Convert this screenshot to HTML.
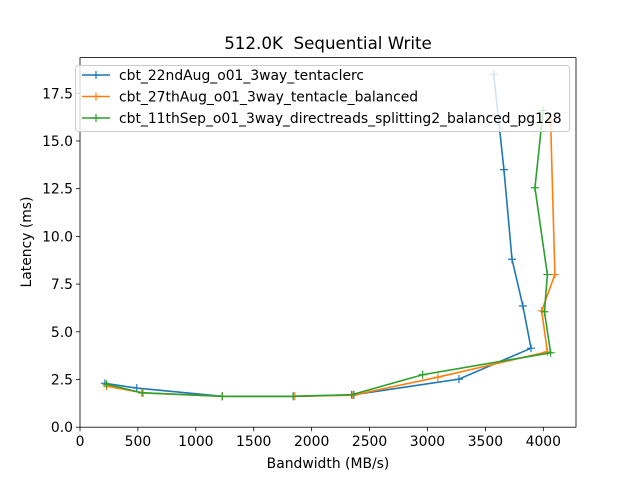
<!DOCTYPE html>
<html><head><meta charset="utf-8"><style>
body{margin:0;background:#fff;font-family:"Liberation Sans","DejaVu Sans",sans-serif}
svg text{font-family:"DejaVu Sans","Liberation Sans",sans-serif}
</style></head><body>
<svg id="c" width="640" height="480" xmlns="http://www.w3.org/2000/svg"></svg>
<script>
const seriesNames=["cbt_22ndAug_o01_3way_tentaclerc","cbt_27thAug_o01_3way_tentacle_balanced","cbt_11thSep_o01_3way_directreads_splitting2_balanced_pg128"];
const blueX=[215,490,1228,1840,2365,3272,3894,3824,3730,3660,3572];
const blueY=[2.3,2.05,1.62,1.62,1.7,2.52,4.14,6.35,8.8,13.5,18.5];
const orangeX=[230,545,1228,1855,2357,3090,4035,3986,4100,4063];
const orangeY=[2.15,1.8,1.62,1.62,1.68,2.62,3.95,6.1,8.0,16.1];
const greenX=[230,535,1228,1840,2345,2958,4063,4010,4035,3928,3998];
const greenY=[2.25,1.8,1.62,1.62,1.7,2.75,3.9,6.05,8.0,12.55,16.6];
const xTicks=[0,500,1000,1500,2000,2500,3000,3500,4000];
const yTicks=[0,2.5,5,7.5,10,12.5,15,17.5];
const yTickLabels=["0.0","2.5","5.0","7.5","10.0","12.5","15.0","17.5"];
const colors=["#1f77b4","#ff7f0e","#2ca02c"];
const L=80,R=576,T=57.6,B=427.2;
const sx=v=>L+v*463.3/4000, sy=v=>B-v*(B-T)/19.37;
const svg=document.getElementById('c');const NS="http://www.w3.org/2000/svg";
function mk(t,a,p){const e=document.createElementNS(NS,t);for(const k in a)e.setAttribute(k,a[k]);(p||svg).appendChild(e);return e;}
let e;
e=mk('text',{x:328,y:49,'text-anchor':'middle','font-size':'16.7',style:'white-space:pre'});e.textContent="512.0K  Sequential Write";


xTicks.forEach(v=>{mk('line',{x1:sx(v),x2:sx(v),y1:B,y2:B+4,stroke:'#000','stroke-width':0.8});
 e=mk('text',{x:sx(v),y:B+19,'text-anchor':'middle','font-size':'13.9'});e.textContent=v;
 
 });
yTicks.forEach((v,i)=>{mk('line',{x1:L-4,x2:L,y1:sy(v),y2:sy(v),stroke:'#000','stroke-width':0.8});
 e=mk('text',{x:L-7,y:sy(v)+5,'text-anchor':'end','font-size':'13.9'});e.textContent=yTickLabels[i];
 
 });
e=mk('text',{x:328,y:468,'text-anchor':'middle','font-size':'13.9'});e.textContent="Bandwidth (MB/s)";


e=mk('text',{x:31,y:242,'text-anchor':'middle','font-size':'13.9',transform:'rotate(-90 31 242)'});e.textContent="Latency (ms)";


[[blueX,blueY],[orangeX,orangeY],[greenX,greenY]].forEach((s,i)=>{
 const g=mk('g',{});
 
 
 const pts=s[0].map((x,j)=>sx(x)+','+sy(s[1][j])).join(' ');
 mk('polyline',{points:pts,fill:'none',stroke:colors[i],'stroke-width':1.6},g);
 s[0].forEach((x,j)=>{const cx=sx(x),cy=sy(s[1][j]);
  const p=mk('path',{d:`M${cx-4},${cy}h8M${cx},${cy-4}v8`,stroke:colors[i],'stroke-width':1.2},g);
  
  });
});
mk('rect',{x:L,y:T,width:R-L,height:B-T,fill:'none',stroke:'#000','stroke-width':0.8});
const lg=mk('g',{});


mk('rect',{x:75.5,y:65.5,width:494,height:66,rx:3,fill:'#fff','fill-opacity':0.8,stroke:'#ccc'},lg);
seriesNames.forEach((n,i)=>{const y=75+i*21.5;
 mk('line',{x1:82,x2:110,y1:y,y2:y,stroke:colors[i],'stroke-width':1.6},lg);
 mk('path',{d:`M92,${y}h8M96,${y-4}v8`,stroke:colors[i],'stroke-width':1.2},lg);
 const t=mk('text',{x:119,y:y+5,'font-size':'13.9'},lg);t.textContent=n;
 
 });
</script>
</body></html>
